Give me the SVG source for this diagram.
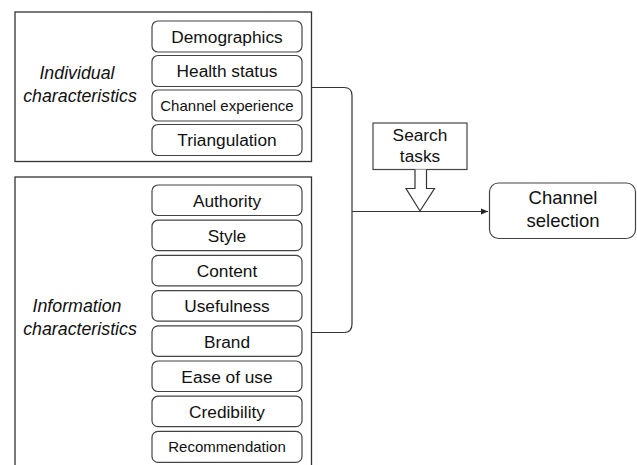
<svg xmlns="http://www.w3.org/2000/svg" width="637" height="465" viewBox="0 0 637 465">
<style>
.grp{fill:#fff;stroke:#333;stroke-width:1.3}
.item{fill:#fff;stroke:#444;stroke-width:1.2}
.t{font-family:"Liberation Sans",Arial,sans-serif;font-size:17.3px;fill:#111;text-anchor:middle}
.ts{font-size:15px}
.it{font-style:italic;font-size:17.8px}
.tb{font-size:18.5px}
.con{fill:none;stroke:#333;stroke-width:1.2}
</style>
<defs>
<marker id="ah" markerWidth="8" markerHeight="8" refX="7" refY="4" orient="auto" markerUnits="userSpaceOnUse">
<path d="M0,1 L7,4 L0,7 Z" fill="#222"/>
</marker>
</defs>
<rect width="637" height="465" fill="#fff"/>
<g id="individual">
<rect class="grp" x="15" y="12" width="296.5" height="149.5"/>
<text class="t it" x="77" y="79">Individual</text>
<text class="t it" x="80" y="102">characteristics</text>
</g>
<g id="demographics"><rect class="item" x="152" y="21" width="150" height="31" rx="6"/><text class="t" x="227" y="42.5">Demographics</text></g>
<g id="health"><rect class="item" x="152" y="55.5" width="150" height="31" rx="6"/><text class="t" x="227" y="77">Health status</text></g>
<g id="channelexp"><rect class="item" x="152" y="90" width="150" height="31" rx="6"/><text class="t ts" x="227" y="110.5">Channel experience</text></g>
<g id="triangulation"><rect class="item" x="152" y="124.5" width="150" height="31" rx="6"/><text class="t" x="227" y="146">Triangulation</text></g>
<g id="information">
<rect class="grp" x="15" y="177" width="296.5" height="300"/>
<text class="t it" x="77" y="312">Information</text>
<text class="t it" x="80" y="335">characteristics</text>
</g>
<g id="authority"><rect class="item" x="152" y="185" width="150" height="30.5" rx="6"/><text class="t" x="227" y="206.5">Authority</text></g>
<g id="style"><rect class="item" x="152" y="220.2" width="150" height="30.5" rx="6"/><text class="t" x="227" y="241.5">Style</text></g>
<g id="content"><rect class="item" x="152" y="255.4" width="150" height="30.5" rx="6"/><text class="t" x="227" y="276.5">Content</text></g>
<g id="usefulness"><rect class="item" x="152" y="290.6" width="150" height="30.5" rx="6"/><text class="t" x="227" y="312">Usefulness</text></g>
<g id="brand"><rect class="item" x="152" y="325.8" width="150" height="30.5" rx="6"/><text class="t" x="227" y="347.5">Brand</text></g>
<g id="ease"><rect class="item" x="152" y="361" width="150" height="30.5" rx="6"/><text class="t" x="227" y="382.5">Ease of use</text></g>
<g id="credibility"><rect class="item" x="152" y="396.2" width="150" height="30.5" rx="6"/><text class="t" x="227" y="417.5">Credibility</text></g>
<g id="recommendation"><rect class="item" x="152" y="431.4" width="150" height="31" rx="6"/><text class="t ts" x="227" y="452">Recommendation</text></g>
<g id="search">
<rect class="item" x="373" y="123" width="94" height="46.5"/>
<text class="t" x="420" y="141">Search</text>
<text class="t" x="420" y="162">tasks</text>
</g>
<g id="channelsel">
<rect class="item" x="489.5" y="183" width="146" height="55.5" rx="9"/>
<text class="t tb" x="563" y="204">Channel</text>
<text class="t tb" x="563" y="227">selection</text>
</g>
<g id="connectors">
<path class="con" d="M312 87.5 H344 Q352 87.5 352 95.5 V324 Q352 332.5 344 332.5 H312"/>
<path class="con" d="M352 211.5 H488" marker-end="url(#ah)"/>
<path class="con" style="fill:#fff" d="M415 169.5 V188.5 H406 L420 211 L434.5 188.5 H426.5 V169.5"/>
</g>
</svg>
